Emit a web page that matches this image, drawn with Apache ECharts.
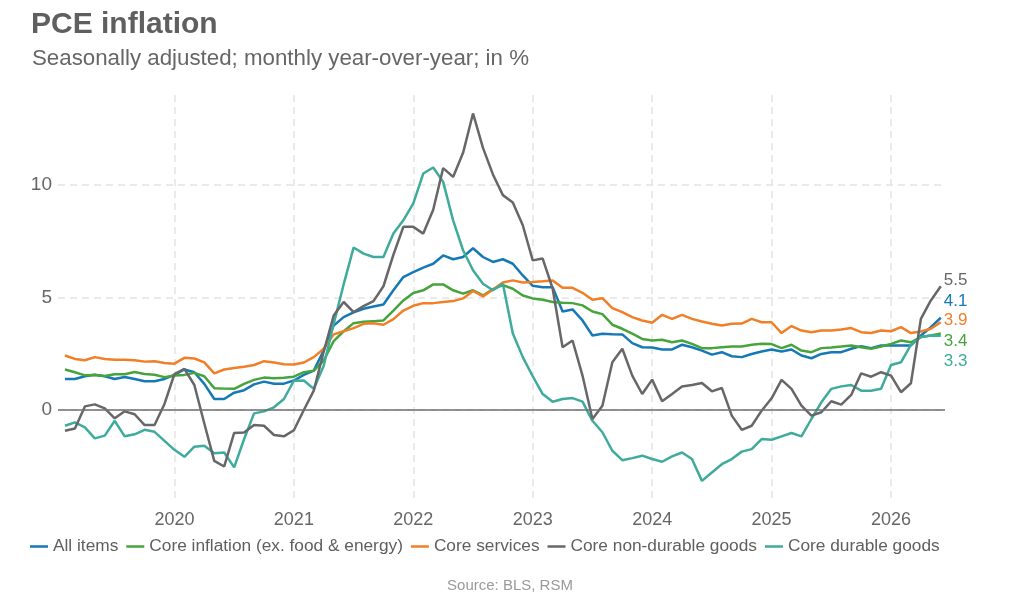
<!DOCTYPE html>
<html>
<head>
<meta charset="utf-8">
<script src="https://cdn.jsdelivr.net/npm/echarts@6/dist/echarts.min.js"></script>
<style>
  html, body { margin: 0; padding: 0; background: #fff; }
  #pce_chart { width: 1020px; height: 600px; }
</style>
</head>
<body>
<div id="pce_chart"></div>
<script>
// monthly observations, Feb 2019 .. Jun 2026
const firstYear = 2019;
const firstMonth = 2;

const allItems = [
    1.38, 1.38, 1.50, 1.57, 1.50, 1.38, 1.47, 1.38, 1.28, 1.28,
    1.38, 1.56, 1.80, 1.68, 1.16, 0.49, 0.49, 0.77, 0.88, 1.14,
    1.26, 1.17, 1.17, 1.31, 1.56, 1.75, 2.65, 3.75, 4.13, 4.34,
    4.50, 4.60, 4.69, 5.32, 5.91, 6.13, 6.33, 6.50, 6.87, 6.70,
    6.80, 7.19, 6.80, 6.58, 6.70, 6.50, 5.98, 5.52, 5.46, 5.46,
    4.38, 4.47, 3.98, 3.31, 3.39, 3.37, 3.36, 2.97, 2.79, 2.78,
    2.69, 2.69, 2.90, 2.79, 2.64, 2.46, 2.57, 2.39, 2.35, 2.49,
    2.60, 2.69, 2.60, 2.69, 2.42, 2.30, 2.49, 2.57, 2.57, 2.72,
    2.84, 2.75, 2.87, 2.87, 2.87, 2.87, 3.31, 3.68, 4.1
];

const coreInflation = [
    1.80, 1.68, 1.54, 1.56, 1.51, 1.59, 1.59, 1.69, 1.60, 1.57,
    1.46, 1.53, 1.56, 1.65, 1.50, 0.97, 0.95, 0.94, 1.16, 1.34,
    1.44, 1.41, 1.43, 1.48, 1.68, 1.75, 2.20, 3.06, 3.50, 3.86,
    3.92, 3.95, 3.98, 4.42, 4.87, 5.20, 5.32, 5.58, 5.58, 5.32,
    5.17, 5.32, 5.09, 5.37, 5.55, 5.39, 5.09, 4.96, 4.90, 4.80,
    4.77, 4.75, 4.65, 4.38, 4.26, 3.79, 3.61, 3.39, 3.16, 3.09,
    3.12, 3.01, 3.09, 2.94, 2.75, 2.75, 2.79, 2.82, 2.82, 2.90,
    2.94, 2.93, 2.75, 2.90, 2.64, 2.57, 2.75, 2.78, 2.82, 2.87,
    2.79, 2.72, 2.82, 2.94, 3.09, 3.01, 3.24, 3.31, 3.4
];

const coreServices = [
    2.42, 2.27, 2.21, 2.35, 2.27, 2.23, 2.23, 2.21, 2.15, 2.17,
    2.09, 2.06, 2.32, 2.29, 2.12, 1.63, 1.80, 1.87, 1.92, 2.00,
    2.17, 2.11, 2.03, 2.02, 2.11, 2.35, 2.72, 3.36, 3.50, 3.64,
    3.83, 3.86, 3.79, 4.04, 4.42, 4.63, 4.75, 4.75, 4.80, 4.84,
    4.96, 5.29, 5.05, 5.36, 5.67, 5.76, 5.67, 5.69, 5.72, 5.76,
    5.43, 5.43, 5.21, 4.90, 4.97, 4.53, 4.35, 4.13, 3.98, 3.88,
    4.23, 4.05, 4.23, 4.05, 3.93, 3.83, 3.76, 3.83, 3.84, 4.05,
    3.90, 3.90, 3.42, 3.73, 3.53, 3.46, 3.53, 3.53, 3.58, 3.64,
    3.46, 3.42, 3.53, 3.50, 3.68, 3.42, 3.49, 3.61, 3.9
];

const coreNonDurable = [
    -0.92, -0.82, 0.16, 0.25, 0.07, -0.37, -0.06, -0.19, -0.67, -0.67,
    0.27, 1.60, 1.83, 1.11, -0.60, -2.26, -2.51, -1.02, -1.00, -0.67,
    -0.70, -1.11, -1.17, -0.90, 0.00, 0.86, 2.60, 4.20, 4.80, 4.35,
    4.62, 4.84, 5.50, 6.90, 8.14, 8.14, 7.84, 8.90, 10.75, 10.36,
    11.43, 13.18, 11.65, 10.47, 9.55, 9.22, 8.21, 6.65, 6.73, 5.40,
    2.79, 3.09, 1.53, -0.40, 0.19, 2.12, 2.72, 1.53, 0.71, 1.35,
    0.39, 0.71, 1.04, 1.11, 1.20, 0.83, 0.98, -0.25, -0.88, -0.70,
    -0.03, 0.52, 1.34, 0.94, 0.19, -0.25, -0.10, 0.39, 0.24, 0.67,
    1.63, 1.48, 1.68, 1.53, 0.79, 1.19, 4.05, 4.87, 5.5
];

const coreDurable = [
    -0.70, -0.55, -0.77, -1.26, -1.14, -0.48, -1.17, -1.08, -0.88, -0.97,
    -1.37, -1.77, -2.08, -1.63, -1.59, -1.92, -1.89, -2.55, -1.29, -0.15,
    -0.06, 0.12, 0.49, 1.30, 1.31, 0.94, 1.97, 3.83, 5.58, 7.22,
    6.95, 6.80, 6.80, 7.84, 8.43, 9.18, 10.51, 10.78, 10.14, 8.43,
    7.10, 6.21, 5.61, 5.32, 5.61, 3.40, 2.35, 1.50, 0.71, 0.37,
    0.49, 0.53, 0.37, -0.48, -0.99, -1.81, -2.23, -2.14, -2.03, -2.18,
    -2.30, -2.06, -1.89, -2.18, -3.15, -2.78, -2.41, -2.18, -1.85, -1.74,
    -1.29, -1.32, -1.17, -1.02, -1.17, -0.40, 0.34, 0.94, 1.05, 1.11,
    0.86, 0.86, 0.94, 2.00, 2.12, 2.90, 3.24, 3.31, 3.3
];

const yearLabels = [2020, 2021, 2022, 2023, 2024, 2025, 2026];

const lines = [
    { name: "All items", data: allItems, color: "#1579b5", dy: -16.5 },
    { name: "Core inflation (ex. food & energy)", data: coreInflation, color: "#47a33c", dy: 7.5 },
    { name: "Core services", data: coreServices, color: "#f07f27", dy: -1.5 },
    { name: "Core non-durable goods", data: coreNonDurable, color: "#67676a", dy: -5.5 },
    { name: "Core durable goods", data: coreDurable, color: "#3eab9c", dy: 25.5 },
];

const FONT = "Liberation Sans";
const gridStyle = { color: "#e3e3e3", width: 1.5, type: [7, 5] };

// month index -> fractional year (Jan 2020 = 2020.0)
const toYear = (i) => firstYear + (firstMonth - 1 + i) / 12;

const series = lines.map((line, idx) => ({
    name: line.name,
    type: "line",
    data: line.data.map((v, i) => [toYear(i), v]),
    showSymbol: false,
    symbol: "none",
    lineStyle: { width: 2.5, color: line.color },
    itemStyle: { color: line.color },
    endLabel: {
        show: true,
        formatter: (p) => p.value[1].toFixed(1),
        color: line.color,
        fontFamily: FONT,
        fontSize: 17,
        distance: 3,
        offset: [0, line.dy]
    },
    markLine: idx === 0 ? {
        silent: true,
        symbol: "none",
        label: { show: false },
        lineStyle: { color: "#6f6f6f", width: 1.5, type: "solid" },
        data: [{ yAxis: 0 }]
    } : undefined,
    z: idx === 3 ? 3 : 2
}));

const chart = echarts.init(document.getElementById("pce_chart"));

chart.setOption({
    animation: false,
    backgroundColor: "#fff",
    title: [
        {
            text: "PCE inflation",
            left: 26,
            top: 5,
            textStyle: { fontFamily: FONT, fontSize: 30, fontWeight: "bold", color: "#5f5f5f" }
        },
        {
            text: "Seasonally adjusted; monthly year-over-year; in %",
            left: 27,
            top: 43,
            textStyle: { fontFamily: FONT, fontSize: 22.3, fontWeight: "normal", color: "#666" }
        },
        {
            text: "Source: BLS, RSM",
            left: "center",
            top: 573,
            textStyle: { fontFamily: FONT, fontSize: 15, fontWeight: "normal", color: "#9a9a9a" }
        }
    ],
    legend: {
        left: 25,
        top: 533,
        icon: "rect",
        itemWidth: 18,
        itemHeight: 2.5,
        itemGap: 8,
        textStyle: { fontFamily: FONT, fontSize: 17.3, color: "#5f5f5f" },
        data: lines.map(({ name }) => name)
    },
    grid: {
        left: 58,
        right: 75,
        top: 95,
        bottom: 100
    },
    xAxis: {
        type: "value",
        min: 2019.025,
        max: 2026.452,
        splitNumber: yearLabels.length,
        axisLine: { show: false },
        axisTick: { show: false },
        axisLabel: {
            showMinLabel: false,
            showMaxLabel: false,
            margin: 11,
            fontFamily: FONT,
            fontSize: 18,
            color: "#666",
            formatter: (v) => (yearLabels.includes(Math.round(v)) ? String(Math.round(v)) : "")
        },
        splitLine: { show: true, showMinLine: false, showMaxLine: false, lineStyle: gridStyle }
    },
    yAxis: {
        type: "value",
        min: -4,
        max: 14,
        splitNumber: 4,
        axisLine: { show: false },
        axisTick: { show: false },
        axisLabel: {
            showMinLabel: false,
            showMaxLabel: false,
            margin: 6,
            fontFamily: FONT,
            fontSize: 19,
            color: "#666"
        },
        splitLine: { show: true, showMinLine: false, showMaxLine: false, lineStyle: gridStyle }
    },
    series: series
});
</script>
</body>
</html>
